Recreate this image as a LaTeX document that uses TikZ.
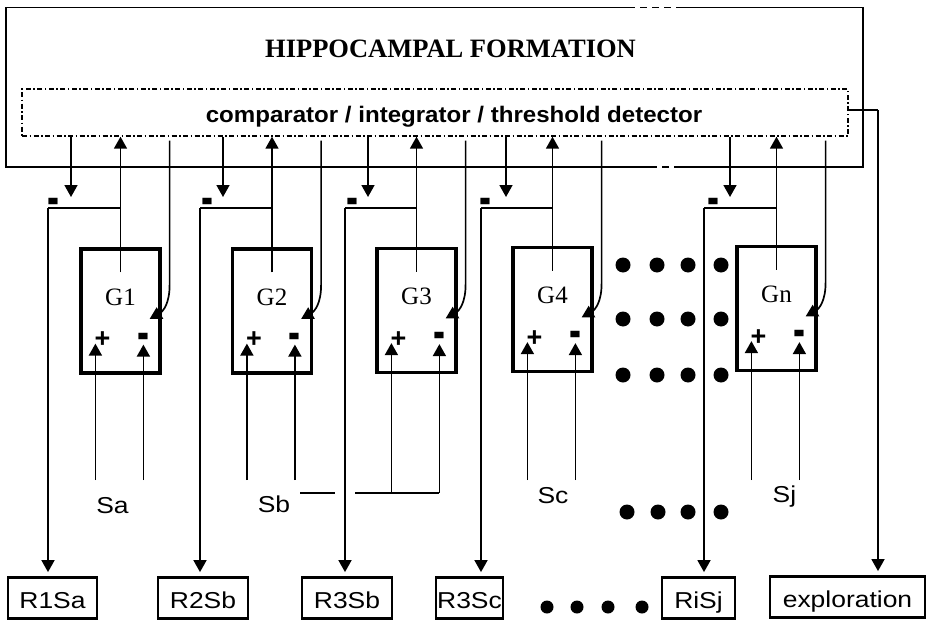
\documentclass[tikz,border=0pt]{standalone}
\usepackage{fontspec}
\usepackage{graphicx}
\setmainfont{Liberation Serif}
\newfontfamily\sansw[FakeStretch=1.15]{Liberation Sans}
\newfontfamily\sansb[FakeStretch=1.07]{Liberation Sans}
\newfontfamily\sansp{Liberation Sans}
\usetikzlibrary{arrows.meta}
\begin{document}
\begin{tikzpicture}[x=1pt,y=-1pt,
  ln/.style={line width=1.7pt},
  arr/.style={ln,-{Triangle[length=12pt,width=13pt]}},
  gbox/.style={draw,line width=3.2pt,inner sep=0pt,minimum width=79pt,minimum height=124pt},
  rbox/.style={draw,line width=2.8pt,inner sep=0pt,minimum height=41pt,text height=20.5pt,text depth=0pt,font=\sansw\fontsize{23}{23}\selectfont},
  glab/.style={font=\fontsize{25}{25}\selectfont,anchor=base},
  slab/.style={font=\sansw\fontsize{23}{23}\selectfont,anchor=base},
  sgn/.style={font=\sansp\bfseries\fontsize{30}{30}\selectfont,inner sep=0pt,text height=29pt,text depth=0pt},
  plus/.style={font=\sansp\bfseries\fontsize{27}{27}\selectfont,inner sep=0pt},
]
\useasboundingbox (0,0) rectangle (935,621);
% outer box
\draw[ln] (628,7.5) -- (6,7.5) -- (6,167) -- (650,167);
\draw[ln] (680,167) -- (863,167) -- (863,7.5) -- (680,7.5);
\draw[ln,dash pattern=on 7pt off 5pt] (628,7.5) -- (680,7.5);
\draw[ln,dash pattern=on 7pt off 5pt] (650,167) -- (680,167);
\node[font=\bfseries\fontsize{26.5}{26.5}\selectfont] (title) at (450.5,48.5) {HIPPOCAMPAL FORMATION};
% comparator
\node[draw,line width=1.4pt,dash pattern=on 5pt off 2.5pt on 1.5pt off 2.5pt,minimum width=826pt,minimum height=47pt,inner sep=0pt] (cmp) at (435,112.5) {};
\node[font=\sansb\bfseries\fontsize{22.5}{22.5}\selectfont,anchor=base,inner sep=0pt] (cmpt) at (454,122) {comparator / integrator / threshold detector};
% G boxes
\node[gbox] (g1) at (120.5,311) {};
\node[gbox] (g2) at (272,311) {};
\node[gbox] (g3) at (416.5,310.5) {};
\node[gbox] (g4) at (552.5,309.5) {};
\node[gbox] (g5) at (776.5,308.5) {};
% R boxes
\node[rbox,minimum width=89pt] (r1) at (52.5,598) {R1Sa};
\node[rbox,minimum width=90pt] (r2) at (203,598) {R2Sb};
\node[rbox,minimum width=90pt] (r3) at (347,598) {R3Sb};
\node[rbox,minimum width=67pt] (r4) at (469.5,598) {R3Sc};
\node[rbox,minimum width=73pt] (r5) at (698.5,598) {RiSj};
\node[rbox,minimum width=155pt] (ex) at (847.5,597) {exploration};
% modules
\foreach \i/\d/\m/\o/\yb/\lab in {1/71/53/48/480/G1, 2/223/207/200/480/G2, 3/368/352/345/493/G3, 4/506/485/481/480/G4, 5/730/713/704/480/Gn}{
  \node[glab] (gt\i) at ([yshift=-58pt]g\i.north) {\lab};
  \coordinate (d\i) at (\d,197);
  \draw[arr] (d\i |- cmp.south) -- (d\i);
  \node[sgn] (m\i) at (\m,201) {\scalebox{1.2}[1.8]{-}};
  \coordinate (o\i) at (\o,208);
  \draw[ln] (o\i) -- (g\i.north |- o\i);
  \draw[arr,shorten >=4pt] (o\i) -- (o\i |- r\i.north);
  \draw[arr] ([yshift=-25pt]g\i.north) -- (g\i.north |- cmp.south);
  \draw[arr] ([xshift=8pt,yshift=-4pt]g\i.east |- cmp.south) -- ([xshift=8pt,yshift=26pt]g\i.east)
     .. controls ([xshift=8pt,yshift=8pt]g\i.east) and ([xshift=2pt,yshift=0pt]g\i.east) .. ([xshift=-12pt,yshift=-8pt]g\i.east);
  \coordinate (yb\i) at (0,\yb);
  \draw[arr] ([xshift=16pt]g\i.west |- yb\i) -- ([xshift=16pt,yshift=31pt]g\i.south west);
  \draw[arr] ([xshift=64pt]g\i.west |- yb\i) -- ([xshift=64pt,yshift=30pt]g\i.south west);
  \node[plus] (p\i) at ([xshift=23pt,yshift=35pt]g\i.south west) {+};
  \node[sgn] (n\i) at ([xshift=64pt,yshift=39pt]g\i.south west) {\scalebox{1.2}[1.8]{-}};
}
% stimulus labels
\node[slab] (sa) at (112.5,513) {Sa};
\node[slab] (sb) at (274,512) {Sb};
\node[slab] (sc) at (553,503) {Sc};
\node[slab] (sj) at (784.5,502) {Sj};
\coordinate (j1) at (335,493);
\coordinate (j2) at (355,493);
\draw[ln] (300,493) -- (j1);
\draw[ln] (j2) -- ([xshift=64pt]g3.west |- yb3);
% exploration
\coordinate (e1) at (878,110);
\draw[ln] (cmp.east |- e1) -- (e1);
\draw[arr,shorten >=4pt] (e1) -- (e1 |- ex.north);
% dots
\foreach \x in {623,657,688,721}{
  \foreach \y in {265,319,375}{\fill (\x,\y) circle[radius=7.5pt];}
}
\foreach \x in {627,658,688,721}{\fill (\x,512) circle[radius=7.5pt];}
\foreach \x in {547,577,608,642}{\fill (\x,607) circle[radius=6.5pt];}
\end{tikzpicture}
\end{document}
